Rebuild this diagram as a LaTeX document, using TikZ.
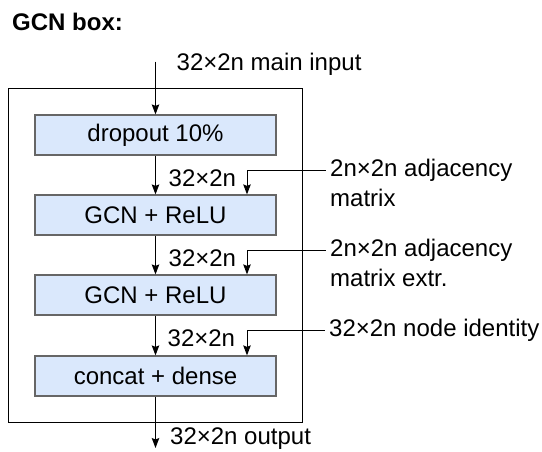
\documentclass[tikz,border=0pt]{standalone}
\usepackage{fontspec}
\setmainfont{Liberation Sans}
\usetikzlibrary{arrows.meta,calc}
\definecolor{boxfill}{HTML}{DAE8FC}
\definecolor{boxline}{HTML}{666666}
\tikzset{
  lbl/.style={inner sep=0pt, anchor=base west, font=\fontsize{24}{29.5}\selectfont},
  sidelbl/.style={lbl, inner xsep=4.5pt},
  layer/.style={draw=boxline, fill=boxfill, line width=1.2pt, minimum width=241pt, minimum height=40pt, inner sep=0pt, font=\fontsize{24}{29.5}\selectfont},
  arr/.style={line width=1pt, -{Stealth[length=10pt,width=7.5pt,inset=1.5pt]}},
  plain/.style={line width=1pt}
}
\begin{document}
\begin{tikzpicture}[x=1pt,y=-1pt]
\useasboundingbox (0,0) rectangle (542,451);
% title
\node[lbl, font=\fontsize{24}{29.5}\selectfont\bfseries] (title) at (12,30) {GCN box:};
% frame
\node[draw, line width=1.2pt, minimum width=294.4pt, minimum height=334pt, inner sep=0pt] (frame) at (155.5,255.3) {};
% layers
\node[layer] (b1) at (155.5,135) {dropout 10\%};
\node[layer] (b2) at (155.5,215) {GCN + ReLU};
\node[layer] (b3) at (155.5,295) {GCN + ReLU};
\node[layer] (b4) at (155.5,376) {concat + dense};
% main input
\coordinate (inp) at (155.5,61.7);
\node[lbl] (inlbl) at (176.5,70) {32×2n main input};
\draw[arr] (inp) -- (b1.north);
% flow between layers
\draw[arr] (b1.south) -- (b2.north);
\draw[arr] (b2.south) -- (b3.north);
\draw[arr] (b3.south) -- (b4.north);
\node[lbl] (f1) at (168.5,186) {32×2n};
\node[lbl] (f2) at (168.5,266.5) {32×2n};
\node[lbl] (f3) at (167.5,346.7) {32×2n};
% side inputs
\coordinate (sx) at (247,0);
\node[sidelbl] (s1) at (325.5,176.7) {2n×2n adjacency};
\node[lbl] (s1b) at (330,206) {matrix};
\node[sidelbl] (s2) at (325.5,256.7) {2n×2n adjacency};
\node[lbl] (s2b) at (330,286.7) {matrix extr.};
\node[sidelbl] (s3) at (324.5,336.7) {32×2n node identity};
\draw[arr] (s1.west) -| (b2.north -| sx);
\draw[arr] (s2.west) -| (b3.north -| sx);
\draw[arr] (s3.west) -| (b4.north -| sx);
% output
\coordinate (outp) at (155.5,448);
\draw[arr] (b4.south) -- (outp);
\node[lbl] (outlbl) at (170,444) {32×2n output};
\end{tikzpicture}
\end{document}
